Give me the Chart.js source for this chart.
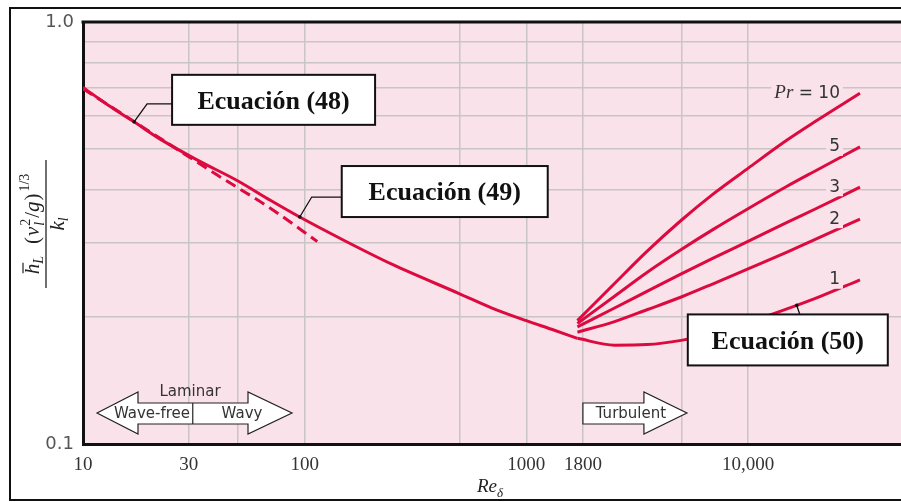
<!DOCTYPE html>
<html>
<head>
<meta charset="utf-8">
<script src="https://cdn.jsdelivr.net/npm/chart.js@4.4.1/dist/chart.umd.min.js"></script>
<style>
html, body { margin: 0; padding: 0; background: #fff; }
canvas { display: block; }
</style>
</head>
<body>
<canvas id="chart" width="901" height="502"></canvas>
<script>
// valores (Re_delta, h_L adimensional)
const reLaminar = [10, 13, 17, 22, 33, 50, 70, 95, 150, 250, 500, 700, 1000, 1300, 1700];
const hLaminar = [0.70, 0.635, 0.58, 0.53, 0.47, 0.42, 0.378, 0.345, 0.304, 0.266, 0.227, 0.21, 0.196, 0.187, 0.178];

const reEq48 = [10, 20, 40, 70, 114];
const hEq48 = [0.695, 0.55, 0.435, 0.362, 0.302];

const reTurb = [1700, 2500, 3500, 5000, 7000, 10000, 15000, 20000, 32000];
const hPr10 = [0.196, 0.24, 0.286, 0.339, 0.392, 0.45, 0.525, 0.58, 0.678];
const hPr5 = [0.193, 0.224, 0.255, 0.289, 0.323, 0.361, 0.408, 0.443, 0.506];
const hPr3 = [0.1895, 0.21, 0.23, 0.253, 0.276, 0.302, 0.335, 0.36, 0.406];
const hPr2 = [0.184, 0.195, 0.208, 0.223, 0.24, 0.26, 0.285, 0.305, 0.341];
const hPr1 = [0.178, 0.1715, 0.172, 0.176, 0.183, 0.194, 0.209, 0.221, 0.245];
const prLabels = ['10', '5', '3', '2', '1'];

const xTicks = [10, 30, 50, 100, 500, 1000, 1800, 5000, 10000];
const xTickLabels = { 10: '10', 30: '30', 100: '100', 1000: '1000', 1800: '1800', 10000: '10,000' };
const yTicks = [0.1, 0.2, 0.3, 0.4, 0.5, 0.6, 0.7, 0.8, 0.9, 1.0];
const yTickLabels = { 0.1: '0.1', 1: '1.0' };

const RED = '#dc0a3f';
const PINK = '#fae2ea';

function pts(xs, ys) {
  return xs.map((x, i) => ({ x: x, y: ys[i] }));
}

function curve(data, dashed) {
  return {
    data: data,
    borderColor: RED,
    borderWidth: 3,
    borderDash: dashed ? [11, 6] : [],
    pointRadius: 0,
    cubicInterpolationMode: 'monotone',
    fill: false
  };
}

// dibuja una secuencia de trozos de texto (para sub/superíndices)
function drawRuns(ctx, runs, cx, y) {
  let w = 0;
  runs.forEach(r => { ctx.font = r.f; if (!r.stack) w += ctx.measureText(r.t).width + (r.gap || 0); });
  let x = cx - w / 2;
  runs.forEach(r => {
    ctx.font = r.f;
    ctx.fillText(r.t, x, y + (r.dy || 0));
    const tw = ctx.measureText(r.t).width;
    if (r.bar) {
      ctx.lineWidth = 1.2;
      ctx.beginPath();
      ctx.moveTo(x + 1, y - 16);
      ctx.lineTo(x + tw + 1, y - 16);
      ctx.stroke();
    }
    if (!r.stack) x += tw + (r.gap || 0);
  });
  return w;
}

const decoPlugin = {
  id: 'deco',
  beforeDraw(chart) {
    const ctx = chart.ctx;
    const a = chart.chartArea;
    ctx.save();
    ctx.fillStyle = '#fff';
    ctx.fillRect(0, 0, chart.width, chart.height);
    ctx.fillStyle = PINK;
    ctx.fillRect(a.left, a.top, a.right - a.left, a.bottom - a.top);
    ctx.restore();
  },
  afterDatasetsDraw(chart) {
    const ctx = chart.ctx;
    const a = chart.chartArea;
    const xs = chart.scales.x;
    const ys = chart.scales.y;
    ctx.save();

    // marco exterior y borde superior del área
    ctx.strokeStyle = '#111';
    ctx.lineWidth = 2;
    ctx.beginPath();
    ctx.moveTo(chart.width + 2, 8);
    ctx.lineTo(10, 8);
    ctx.lineTo(10, 500);
    ctx.lineTo(chart.width + 2, 500);
    ctx.stroke();
    ctx.lineWidth = 3;
    ctx.beginPath();
    ctx.moveTo(a.left - 1.5, a.top);
    ctx.lineTo(a.right, a.top);
    ctx.stroke();

    // etiquetas Pr
    ctx.textBaseline = 'middle';
    ctx.textAlign = 'right';
    prLabels.forEach((lab, i) => {
      const meta = chart.getDatasetMeta(i + 2);
      const end = meta.data[meta.data.length - 1];
      const rx = end.x - 20;
      const y = end.y;
      ctx.font = '17px "DejaVu Sans"';
      let txt = i === 0 ? ' = ' + lab : lab;
      let w = ctx.measureText(txt).width;
      let pw = 0;
      if (i === 0) {
        ctx.font = 'italic 19px "Liberation Serif"';
        pw = ctx.measureText('Pr').width;
      }
      ctx.fillStyle = PINK;
      ctx.fillRect(rx - w - pw - 3, y - 9, w + pw + 6, 18);
      ctx.fillStyle = '#333';
      ctx.font = '17px "DejaVu Sans"';
      ctx.fillText(txt, rx, y);
      if (i === 0) {
        ctx.font = 'italic 19px "Liberation Serif"';
        ctx.fillText('Pr', rx - w, y);
      }
    });

    // flechas inferiores
    ctx.fillStyle = '#fff';
    ctx.strokeStyle = '#222';
    ctx.lineWidth = 1.2;
    const ay = 413;
    ctx.beginPath();
    ctx.moveTo(97, ay);
    ctx.lineTo(138, ay - 21);
    ctx.lineTo(138, ay - 10);
    ctx.lineTo(248, ay - 10);
    ctx.lineTo(248, ay - 21);
    ctx.lineTo(292, ay);
    ctx.lineTo(248, ay + 21);
    ctx.lineTo(248, ay + 11);
    ctx.lineTo(138, ay + 11);
    ctx.lineTo(138, ay + 21);
    ctx.closePath();
    ctx.fill();
    ctx.stroke();
    const dx = xs.getPixelForValue(30) + 4;
    ctx.beginPath();
    ctx.moveTo(dx, ay - 10);
    ctx.lineTo(dx, ay + 11);
    ctx.stroke();

    const tx = xs.getPixelForValue(1800);
    ctx.beginPath();
    ctx.moveTo(tx, ay - 10);
    ctx.lineTo(tx + 61, ay - 10);
    ctx.lineTo(tx + 61, ay - 21);
    ctx.lineTo(tx + 104, ay);
    ctx.lineTo(tx + 61, ay + 21);
    ctx.lineTo(tx + 61, ay + 11);
    ctx.lineTo(tx, ay + 11);
    ctx.closePath();
    ctx.fill();
    ctx.stroke();

    ctx.fillStyle = '#333';
    ctx.font = '15px "DejaVu Sans"';
    ctx.textAlign = 'center';
    ctx.fillText('Laminar', 190, 392);
    ctx.fillText('Wave-free', 152, ay + 1);
    ctx.fillText('Wavy', 242, ay + 1);
    ctx.fillText('Turbulent', tx + 48, ay + 1);

    // recuadros de ecuaciones
    const notes = [
      { text: 'Ecuación (48)', re: 17, h: 0.58, box: [38, -47, 203, 50], elbow: [13, -18] },
      { text: 'Ecuación (49)', re: 95, h: 0.345, box: [42, -51, 206, 51], elbow: [12, -20] },
      { text: 'Ecuación (50)', re: 16600, h: 0.213, box: [-109, 9, 200, 51], elbow: null }
    ];
    notes.forEach(n => {
      const px = xs.getPixelForValue(n.re);
      const py = ys.getPixelForValue(n.h);
      const bx = px + n.box[0], by = py + n.box[1];
      ctx.strokeStyle = '#111';
      ctx.lineWidth = 1.3;
      ctx.beginPath();
      ctx.moveTo(px, py);
      if (n.elbow) {
        ctx.lineTo(px + n.elbow[0], py + n.elbow[1]);
        ctx.lineTo(bx, py + n.elbow[1]);
      } else {
        ctx.lineTo(px + 3, by);
      }
      ctx.stroke();
      ctx.fillStyle = '#111';
      ctx.beginPath();
      ctx.arc(px, py, 1.8, 0, Math.PI * 2);
      ctx.fill();
      ctx.fillStyle = '#fff';
      ctx.fillRect(bx, by, n.box[2], n.box[3]);
      ctx.lineWidth = 2;
      ctx.strokeRect(bx, by, n.box[2], n.box[3]);
      ctx.fillStyle = '#111';
      ctx.font = 'bold 26px "Liberation Serif"';
      ctx.textAlign = 'center';
      ctx.textBaseline = 'middle';
      ctx.fillText(n.text, bx + n.box[2] / 2, by + n.box[3] / 2 + 2);
    });

    // título eje x: Re_delta
    ctx.textAlign = 'left';
    ctx.textBaseline = 'alphabetic';
    ctx.fillStyle = '#222';
    drawRuns(ctx, [
      { t: 'Re', f: 'italic 19px "Liberation Serif"' },
      { t: 'δ', f: 'italic 13px "Liberation Serif"', dy: 5 }
    ], 490, 492);

    // título eje y
    ctx.translate(46, 224);
    ctx.rotate(-Math.PI / 2);
    const main = 'italic 21px "Liberation Serif"';
    const norm = '21px "Liberation Serif"';
    const sub = 'italic 14px "Liberation Serif"';
    const sup = '14px "Liberation Serif"';
    ctx.strokeStyle = '#222';
    drawRuns(ctx, [
      { t: 'h', f: main, bar: true },
      { t: 'L', f: sub, dy: 4, gap: 12 },
      { t: '(', f: norm, gap: 1 },
      { t: 'ν', f: main, gap: 1 },
      { t: '2', f: sup, dy: -9, stack: true },
      { t: 'l', f: sub, dy: 5, gap: 4 },
      { t: '/', f: norm },
      { t: 'g', f: main, gap: 1 },
      { t: ')', f: norm, gap: 2 },
      { t: '1/3', f: sup, dy: -10 }
    ], 0, -7);
    ctx.lineWidth = 1.3;
    ctx.beginPath();
    ctx.moveTo(-64, 0);
    ctx.lineTo(64, 0);
    ctx.stroke();
    drawRuns(ctx, [
      { t: 'k', f: main },
      { t: 'l', f: sub, dy: 4 }
    ], 0, 18);
    ctx.restore();
  }
};

const ctx = document.getElementById('chart').getContext('2d');
new Chart(ctx, {
  type: 'line',
  data: {
    datasets: [
      curve(pts(reLaminar, hLaminar), false),
      curve(pts(reEq48, hEq48), true),
      curve(pts(reTurb, hPr10), false),
      curve(pts(reTurb, hPr5), false),
      curve(pts(reTurb, hPr3), false),
      curve(pts(reTurb, hPr2), false),
      curve(pts(reTurb, hPr1), false)
    ]
  },
  options: {
    responsive: false,
    animation: false,
    devicePixelRatio: 1,
    parsing: false,
    layout: { padding: { top: 22, right: 0, bottom: 0, left: 0 } },
    plugins: { legend: { display: false }, tooltip: { enabled: false } },
    scales: {
      x: {
        type: 'logarithmic',
        min: 10,
        max: 49000,
        afterBuildTicks: s => { s.ticks = xTicks.map(v => ({ value: v })); },
        afterFit: s => { s.height = 58; },
        grid: { color: '#c9c4c6', lineWidth: 1.5, drawTicks: false },
        border: { display: true, color: '#111', width: 3 },
        ticks: {
          autoSkip: false,
          maxRotation: 0,
          padding: 10,
          color: '#333',
          font: { family: 'Liberation Serif', size: 19 },
          callback: v => xTickLabels[v] || ''
        }
      },
      y: {
        type: 'logarithmic',
        min: 0.1,
        max: 1,
        afterBuildTicks: s => { s.ticks = yTicks.map(v => ({ value: v })); },
        afterFit: s => { s.width = 83; },
        grid: { color: '#c9c4c6', lineWidth: 1.5, drawTicks: false },
        border: { display: true, color: '#111', width: 3 },
        ticks: {
          autoSkip: false,
          padding: 9,
          color: '#555',
          font: { family: 'DejaVu Sans', size: 18 },
          callback: v => yTickLabels[Math.round(v * 10) / 10] || ''
        }
      }
    }
  },
  plugins: [decoPlugin]
});
</script>
</body>
</html>
